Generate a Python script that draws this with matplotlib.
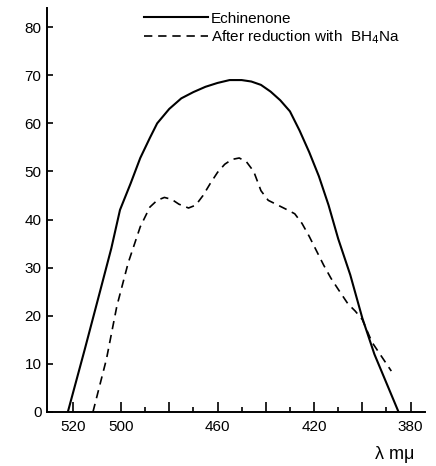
import matplotlib
matplotlib.use("Agg")
import matplotlib.pyplot as plt

plt.rcParams['font.family'] = ['Liberation Sans Narrow', 'Liberation Sans', 'DejaVu Sans']

# echinenone (solid)
solid_nm = [522, 515, 508.7, 504, 500.4, 496, 492, 488, 485, 480, 475, 470, 465, 460, 455,
            450, 446, 442, 438, 434, 430, 426, 422, 418, 414, 410, 405, 400, 395, 390, 385]
solid_val = [0, 13, 25, 34, 42, 47.5, 52.8, 57, 60, 63, 65.2, 66.5, 67.6, 68.4, 69,
             69, 68.7, 68, 66.6, 64.8, 62.5, 58.5, 54, 49, 43, 36, 28.5, 19.5, 12, 6, 0]

# after reduction with BH4Na (dashed)
dash_nm = [511.6, 506, 501.7, 497, 492, 488, 485, 482, 479, 476, 472, 469, 466, 463, 460,
           457, 454, 451, 448, 445, 442, 439, 435, 431, 428, 425, 422, 419, 416, 413, 410,
           406, 403, 400, 396, 392, 388]
dash_val = [0, 11, 22, 31, 38.5, 42.6, 44, 44.6, 44.2, 43.2, 42.4, 43, 45, 47.5, 49.8,
            51.5, 52.5, 52.8, 52, 50, 46, 44, 43, 42, 41.2, 39.2, 36.5, 33.5, 30.5, 27.8, 25.5,
            22.5, 21, 19.2, 14.5, 11.5, 8.5]

xticks = [520, 500, 480, 460, 440, 420, 400, 380]
xlabels = ['520', '500', '', '460', '', '420', '', '380']
xminor = [490, 470, 450, 430, 410, 390]
yticks = [0, 10, 20, 30, 40, 50, 60, 70, 80]

fig = plt.figure(figsize=(4.36, 4.66), dpi=100)
ax = fig.add_axes([0.108, 0.116, 0.867, 0.867])

ax.plot(solid_nm, solid_val, color='black', lw=1.5, label='Echinenone')
ax.plot(dash_nm, dash_val, color='black', lw=1.2, dashes=(5, 3.5),
        label='After reduction with  BH$_4$Na')

ax.set_xlim(530.6, 374)
ax.set_ylim(0, 84)

for s in ['top', 'right']:
    ax.spines[s].set_visible(False)
for s in ['left', 'bottom']:
    ax.spines[s].set_linewidth(1.4)

ax.set_xticks(xticks)
ax.set_xticklabels(xlabels)
ax.set_xticks(xminor, minor=True)
ax.set_yticks(yticks)
ax.tick_params(axis='x', which='major', direction='in', length=7, width=1.2, labelsize=11, pad=6)
ax.tick_params(axis='x', which='minor', direction='in', length=3.5, width=1.2)
ax.tick_params(axis='y', direction='in', length=4, width=1.2, labelsize=11, pad=4)

ax.set_xlabel('λ mμ', fontsize=13)
ax.xaxis.set_label_coords(0.92, -0.085)

ax.legend(loc='upper left', bbox_to_anchor=(0.22, 1.025), frameon=False,
          fontsize=11, handlelength=4.2, handletextpad=0.2, labelspacing=0.2)

fig.savefig('out.png', dpi=100)
